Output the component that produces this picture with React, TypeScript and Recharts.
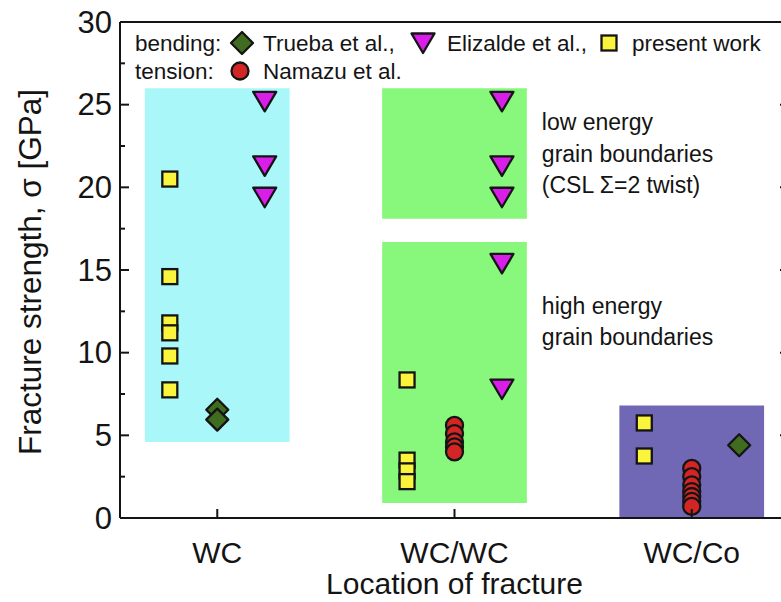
import React from 'react';
import { ScatterChart, Scatter, XAxis, YAxis, ReferenceArea, ReferenceLine, Legend } from 'recharts';

// ---------- data ----------
const categories = ['WC', 'WC/WC', 'WC/Co'];
const presentWork = [[20.5, 14.6, 11.8, 11.2, 9.8, 7.75], [8.35, 3.5, 2.85, 2.2], [5.75, 3.75]];
const elizalde = [[25.2, 21.3, 19.4], [25.2, 21.3, 19.4, 15.4, 7.8], []];
const trueba = [[6.55, 5.95], [], [4.4]];
const namazu = [[], [5.6, 5.1, 4.6, 4.3, 4.0], [3.0, 2.5, 2.0, 1.6, 1.3, 1.0, 0.7]];

// shaded bands (category index, lower / upper strength in GPa)
const bandCategory = [0, 1, 1, 2];
const bandLow = [4.6, 18.1, 0.9, 0];
const bandHigh = [26.0, 26.0, 16.7, 6.8];

const yTicks = [0, 2.5, 5, 7.5, 10, 12.5, 15, 17.5, 20, 22.5, 25, 27.5, 30];
const yRightTicks = [5, 10, 15, 20, 25];
const xTicks = [1, 2, 3];

// ---------- layout / style ----------
const FONT = 'Liberation Sans, Arial, Helvetica, sans-serif';
const INK = '#141414';
const BAND_COLORS = ['#aaf7f9', '#88f87c', '#88f87c', '#7067b5'];
const BAND_HALF = 0.305;
const OFFSETS = {
  present: [-0.2, -0.2, -0.2],
  elizalde: [0.2, 0.2, 0.2],
  trueba: [0, 0, 0.2],
  namazu: [0, 0, 0],
};
const COLORS = {
  present: '#fbf43c',
  elizalde: '#d81ee8',
  trueba: '#3f6c1f',
  namazu: '#d42525',
};

const toPoints = (vals: number[][], offs: number[]) =>
  vals.flatMap((arr, i) => arr.map((v) => ({ x: i + 1 + offs[i], y: v })));

const presentPts = toPoints(presentWork, OFFSETS.present);
const elizaldePts = toPoints(elizalde, OFFSETS.elizalde);
const truebaPts = toPoints(trueba, OFFSETS.trueba);
const namazuPts = toPoints(namazu, OFFSETS.namazu);

// ---------- marker shapes ----------
const SW = 2.3;
const Square = ({ cx, cy }: any) => (
  <rect x={cx - 7.5} y={cy - 7.5} width={15} height={15} fill={COLORS.present} stroke={INK} strokeWidth={SW} />
);
const TriDown = ({ cx, cy }: any) => (
  <polygon
    points={`${cx - 11.5},${cy - 9.5} ${cx + 11.5},${cy - 9.5} ${cx},${cy + 10}`}
    fill={COLORS.elizalde}
    stroke={INK}
    strokeWidth={SW}
    strokeLinejoin="round"
  />
);
const Diamond = ({ cx, cy }: any) => (
  <polygon
    points={`${cx},${cy - 11} ${cx + 11},${cy} ${cx},${cy + 11} ${cx - 11},${cy}`}
    fill={COLORS.trueba}
    stroke={INK}
    strokeWidth={SW}
    strokeLinejoin="round"
  />
);
const Circle = ({ cx, cy }: any) => (
  <circle cx={cx} cy={cy} r={8.5} fill={COLORS.namazu} stroke={INK} strokeWidth={SW} />
);

// ---------- axis ticks ----------
const LeftTick = ({ x, y, payload }: any) => {
  const v = payload.value;
  const major = v % 5 === 0;
  return (
    <g>
      {v !== 0 && v !== 30 && (
        <line x1={x} x2={x + (major ? 9 : 5)} y1={y} y2={y} stroke={INK} strokeWidth={2} />
      )}
      {major && (
        <text x={x - 8} y={y} textAnchor="end" dominantBaseline="central" fontFamily={FONT} fontSize={31} fill={INK}>
          {v}
        </text>
      )}
    </g>
  );
};

const RightTick = ({ x, y }: any) => (
  <line x1={x - 9} x2={x} y1={y} y2={y} stroke={INK} strokeWidth={2} />
);

const BottomTick = ({ x, y, payload }: any) => (
  <g>
    <line x1={x} x2={x} y1={y} y2={y - 9} stroke={INK} strokeWidth={2} />
    <text x={x} y={y + 34} textAnchor="middle" dominantBaseline="central" fontFamily={FONT} fontSize={30} fill={INK}>
      {categories[payload.value - 1]}
    </text>
  </g>
);

const YTitle = ({ viewBox }: any) => {
  const cx = 30;
  const cy = viewBox.y + viewBox.height / 2 + 2;
  return (
    <text
      x={cx}
      y={cy}
      transform={`rotate(-90 ${cx} ${cy})`}
      textAnchor="middle"
      dominantBaseline="central"
      fontFamily={FONT}
      fontSize={31.5}
      fill={INK}
    >
      Fracture strength, σ [GPa]
    </text>
  );
};

const XTitle = ({ viewBox }: any) => (
  <text
    x={viewBox.x + viewBox.width / 2}
    y={viewBox.y + 65}
    textAnchor="middle"
    dominantBaseline="central"
    fontFamily={FONT}
    fontSize={30}
    fill={INK}
  >
    Location of fracture
  </text>
);

const annoLow = ['low energy', 'grain boundaries', '(CSL Σ=2 twist)'];
const annoHigh = ['high energy', 'grain boundaries'];

const makeAnno = (lines: string[], dy: number) => ({ viewBox }: any) => (
  <g>
    {lines.map((t, i) => (
      <text
        key={i}
        x={viewBox.x + viewBox.width + 15}
        y={viewBox.y + dy + i * 31.5}
        dominantBaseline="central"
        fontFamily={FONT}
        fontSize={23}
        fill={INK}
      >
        {t}
      </text>
    ))}
  </g>
);

const bandLabels: any[] = [undefined, makeAnno(annoLow, 34), makeAnno(annoHigh, 64), undefined];

const LegendContent = () => (
  <svg width={781} height={90} style={{ display: 'block' }}>
    <g fontFamily={FONT} fontSize={22.5} fill={INK}>
      <text x={135} y={43} dominantBaseline="central">bending:</text>
      <Diamond cx={242} cy={43} />
      <text x={263} y={43} dominantBaseline="central">Trueba et al.,</text>
      <TriDown cx={423} cy={43} />
      <text x={447} y={43} dominantBaseline="central">Elizalde et al.,</text>
      <Square cx={609} cy={43} />
      <text x={632} y={43} dominantBaseline="central">present work</text>
      <text x={135} y={71} dominantBaseline="central">tension:</text>
      <Circle cx={240} cy={71} />
      <text x={263} y={71} dominantBaseline="central">Namazu et al.</text>
    </g>
  </svg>
);

export default function App() {
  return (
    <div style={{ position: 'fixed', left: 0, top: 0, width: 781, height: 602, overflow: 'hidden', background: '#fff' }}>
      <ScatterChart width={799} height={602} margin={{ top: 22, right: 0, bottom: 0, left: 0 }}>
        <XAxis
          type="number"
          dataKey="x"
          domain={[0.59, 3.41]}
          allowDataOverflow
          ticks={xTicks}
          interval={0}
          height={84}
          tickSize={0}
          tickMargin={0}
          tick={<BottomTick />}
          axisLine={{ stroke: INK, strokeWidth: 2 }}
          label={<XTitle />}
        />
        <YAxis
          type="number"
          dataKey="y"
          domain={[0, 30]}
          allowDataOverflow
          ticks={yTicks}
          interval={0}
          width={120}
          tickSize={0}
          tickMargin={0}
          tick={<LeftTick />}
          axisLine={{ stroke: INK, strokeWidth: 2 }}
          label={<YTitle />}
        />
        <YAxis
          yAxisId="r"
          orientation="right"
          type="number"
          domain={[0, 30]}
          allowDataOverflow
          ticks={yRightTicks}
          interval={0}
          width={10}
          tickSize={0}
          tickMargin={0}
          tick={<RightTick />}
          axisLine={{ stroke: INK, strokeWidth: 2 }}
        />
        {bandCategory.map((c, i) => (
          <ReferenceArea
            key={i}
            x1={c + 1 - BAND_HALF}
            x2={c + 1 + BAND_HALF}
            y1={bandLow[i]}
            y2={bandHigh[i]}
            fill={BAND_COLORS[i]}
            fillOpacity={1}
            stroke="none"
            ifOverflow="visible"
            label={bandLabels[i]}
          />
        ))}
        <ReferenceLine y={30} stroke={INK} strokeWidth={2} />
        <Legend
          content={<LegendContent />}
          layout="vertical"
          align="center"
          verticalAlign="middle"
          wrapperStyle={{ position: 'absolute', left: 0, top: 0, width: 781, height: 90, pointerEvents: 'none' }}
        />
        <Scatter name="present work" data={presentPts} shape={<Square />} isAnimationActive={false} />
        <Scatter name="Elizalde et al." data={elizaldePts} shape={<TriDown />} isAnimationActive={false} />
        <Scatter name="Trueba et al." data={truebaPts} shape={<Diamond />} isAnimationActive={false} />
        <Scatter name="Namazu et al." data={namazuPts} shape={<Circle />} isAnimationActive={false} />
      </ScatterChart>
    </div>
  );
}
